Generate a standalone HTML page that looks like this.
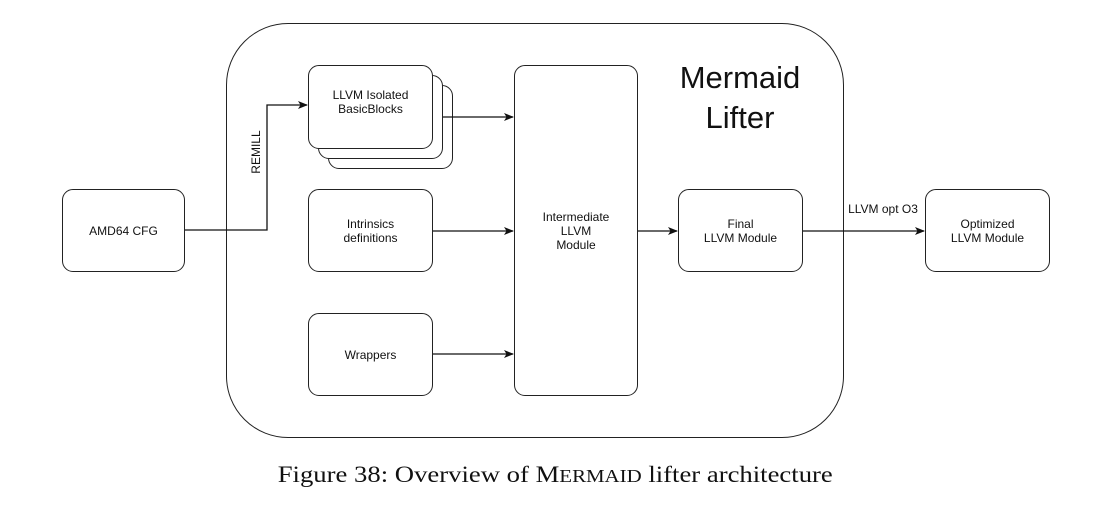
<!DOCTYPE html>
<html><head><style>
body{margin:0;background:#fff;width:1102px;height:513px;overflow:hidden;position:relative;font-family:"Liberation Sans",sans-serif}
.b{position:absolute;border:1.3px solid #222;border-radius:11px;background:#fff;display:flex;align-items:center;justify-content:center;text-align:center;font-size:12px;line-height:14px;color:#111;box-sizing:border-box}
</style></head><body>
<div class="b" style="left:226px;top:23px;width:618px;height:415px;border-radius:62px"></div>
<div style="position:absolute;left:640px;top:58px;width:200px;text-align:center;font-size:31px;line-height:40px;color:#111">Mermaid<br>Lifter</div>
<div class="b" style="left:62px;top:189px;width:123px;height:83px">AMD64 CFG</div>
<div class="b" style="left:328px;top:85px;width:125px;height:84px"></div>
<div class="b" style="left:318px;top:75px;width:125px;height:84px"></div>
<div class="b" style="left:308px;top:65px;width:125px;height:84px;padding-bottom:10px">LLVM Isolated<br>BasicBlocks</div>
<div class="b" style="left:308px;top:189px;width:125px;height:83px">Intrinsics<br>definitions</div>
<div class="b" style="left:308px;top:313px;width:125px;height:83px">Wrappers</div>
<div class="b" style="left:514px;top:65px;width:124px;height:331px">Intermediate<br>LLVM<br>Module</div>
<div class="b" style="left:678px;top:189px;width:125px;height:83px">Final<br>LLVM Module</div>
<div class="b" style="left:925px;top:189px;width:125px;height:83px">Optimized<br>LLVM Module</div>
<svg style="position:absolute;left:0;top:0" width="1102" height="513">
<defs><marker id="a" markerWidth="10" markerHeight="8" refX="9" refY="4" orient="auto" markerUnits="userSpaceOnUse"><path d="M0,0L10,4L0,8L2.5,4z" fill="#111"/></marker></defs>
<g stroke="#111" stroke-width="1.3" fill="none">
<path d="M185,230H267V105H307" marker-end="url(#a)"/>
<path d="M443,117H513" marker-end="url(#a)"/>
<path d="M433,231H513" marker-end="url(#a)"/>
<path d="M433,354H513" marker-end="url(#a)"/>
<path d="M638,231H677" marker-end="url(#a)"/>
<path d="M803,231H924" marker-end="url(#a)"/>
</g>
<text x="260" y="152" transform="rotate(-90 260 152)" text-anchor="middle" font-size="12" fill="#111" font-family="Liberation Sans">REMILL</text>
<text x="883" y="213" text-anchor="middle" font-size="12" fill="#111" font-family="Liberation Sans">LLVM opt O3</text>
</svg>
<div style="position:absolute;left:255px;width:600px;top:462px;text-align:center;font-family:'Liberation Serif',serif;font-size:23px;color:#111;white-space:nowrap"><span style="display:inline-block;transform:scaleX(1.16)">Figure 38: Overview of M<span style="font-size:18px">ERMAID</span> lifter architecture</span></div>
</body></html>
